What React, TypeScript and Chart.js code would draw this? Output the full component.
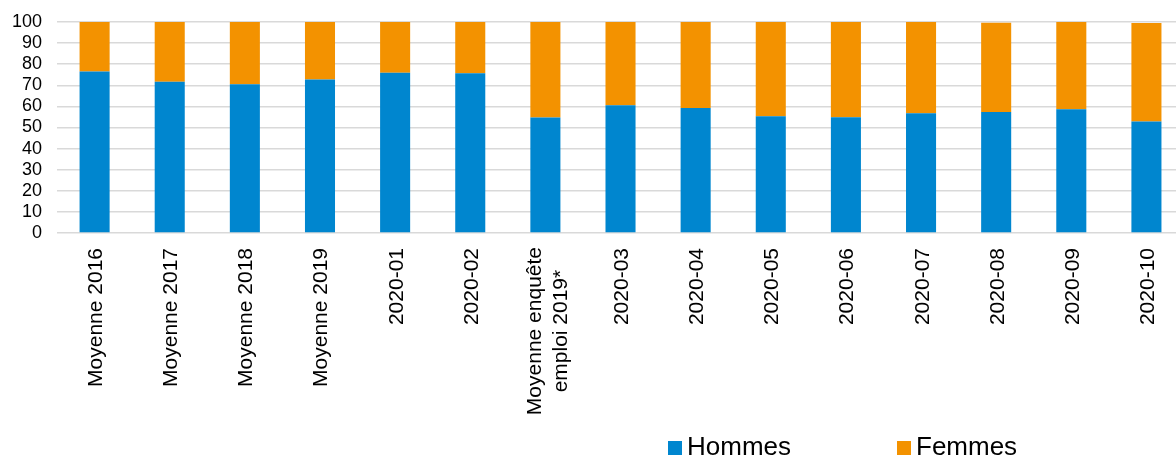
import React, { useEffect, useRef } from "react";
import { Chart, registerables } from "chart.js";

Chart.register(...registerables);

const categories: (string | string[])[] = [
  "Moyenne 2016",
  "Moyenne 2017",
  "Moyenne 2018",
  "Moyenne 2019",
  "2020-01",
  "2020-02",
  ["Moyenne enquête", "emploi 2019*"],
  "2020-03",
  "2020-04",
  "2020-05",
  "2020-06",
  "2020-07",
  "2020-08",
  "2020-09",
  "2020-10",
];

const hommes = [76.5, 71.7, 70.5, 72.8, 76.0, 75.7, 54.7, 60.5, 59.2, 55.3, 54.8, 56.8, 57.4, 58.6, 52.8];
const femmes = [23.5, 28.3, 29.5, 27.2, 24.0, 24.3, 45.3, 39.5, 40.8, 44.7, 45.2, 43.2, 42.2, 41.4, 46.7];

const yTicks = [0, 10, 20, 30, 40, 50, 60, 70, 80, 90, 100];

const BLUE = "#0086CF";
const ORANGE = "#F39200";
const FONT = "'Liberation Sans', Arial, sans-serif";
const SHIFT = 15;

const xLabelPlugin = {
  id: "xLabelPlugin",
  afterDraw(chart: any) {
    const ctx = chart.ctx;
    const xs = chart.scales.x;
    const area = chart.chartArea;
    ctx.save();
    ctx.fillStyle = "#000";
    ctx.font = `21px ${FONT}`;
    ctx.textBaseline = "alphabetic";
    const labels = chart.data.labels as (string | string[])[];
    labels.forEach((lab, i) => {
      const px = xs.getPixelForValue(i);
      const top = area.bottom + 15;
      const lines = Array.isArray(lab) ? lab : [lab];
      const lineGap = 26;
      const maxW = Math.max(...lines.map((l) => ctx.measureText(l).width));
      lines.forEach((line, j) => {
        const off = (j - (lines.length - 1) / 2) * lineGap;
        ctx.save();
        if (lines.length === 1) {
          ctx.translate(px + 7.5 + off, top);
          ctx.rotate(-Math.PI / 2);
          ctx.textAlign = "right";
          ctx.fillText(line, 0, 0);
        } else {
          ctx.translate(px + 8.5 + off, top - 1 + maxW / 2);
          ctx.rotate(-Math.PI / 2);
          ctx.textAlign = "center";
          ctx.fillText(line, 0, 0);
        }
        ctx.restore();
      });
    });
    ctx.restore();
  },
};

const legendPlugin = {
  id: "customLegend",
  afterDraw(chart: any) {
    const ctx = chart.ctx;
    const ds = chart.data.datasets;
    const spots = [
      { box: 668, text: 687 },
      { box: 897, text: 916 },
    ];
    ctx.save();
    ctx.font = `26px ${FONT}`;
    ctx.textBaseline = "alphabetic";
    ctx.textAlign = "left";
    ds.forEach((d: any, i: number) => {
      const s = spots[i];
      ctx.fillStyle = d.backgroundColor;
      ctx.fillRect(s.box + SHIFT, 441, 14, 14);
      ctx.fillStyle = "#000";
      ctx.fillText(d.label, s.text + SHIFT, 455);
    });
    ctx.restore();
  },
};

export default function App() {
  const ref = useRef<HTMLCanvasElement>(null);
  useEffect(() => {
    if (!ref.current) return;
    const chart = new Chart(ref.current, {
      type: "bar",
      data: {
        labels: categories,
        datasets: [
          { label: "Hommes", data: hommes, backgroundColor: BLUE, borderWidth: 0 },
          { label: "Femmes", data: femmes, backgroundColor: ORANGE, borderWidth: 0 },
        ],
      },
      options: {
        responsive: false,
        animation: false,
        layout: { padding: { left: 12, right: 6, top: 22, bottom: 224 } },
        datasets: { bar: { categoryPercentage: 1, barPercentage: 0.4 } },
        plugins: { legend: { display: false }, tooltip: { enabled: false } },
        scales: {
          x: { stacked: true, display: false },
          y: {
            stacked: true,
            min: yTicks[0],
            max: yTicks[yTicks.length - 1],
            afterBuildTicks: (scale: any) => {
              scale.ticks = yTicks.map((v) => ({ value: v }));
            },
            ticks: {
              font: { family: FONT, size: 18, lineHeight: 0.75 },
              color: "#000",
              padding: 15,
              autoSkip: false,
            },
            grid: { color: "#d9d9d9", lineWidth: 1.5, drawTicks: false },
            border: { display: false },
          },
        },
      },
      plugins: [xLabelPlugin, legendPlugin],
    });
    return () => chart.destroy();
  }, []);
  return (
    <div style={{ position: "fixed", left: 0, top: 0, width: 1176, height: 457, overflow: "hidden", background: "#fff" }}>
      <canvas
        ref={ref}
        width={1205}
        height={457}
        style={{ display: "block", position: "absolute", left: -SHIFT, top: 0 }}
      />
    </div>
  );
}
